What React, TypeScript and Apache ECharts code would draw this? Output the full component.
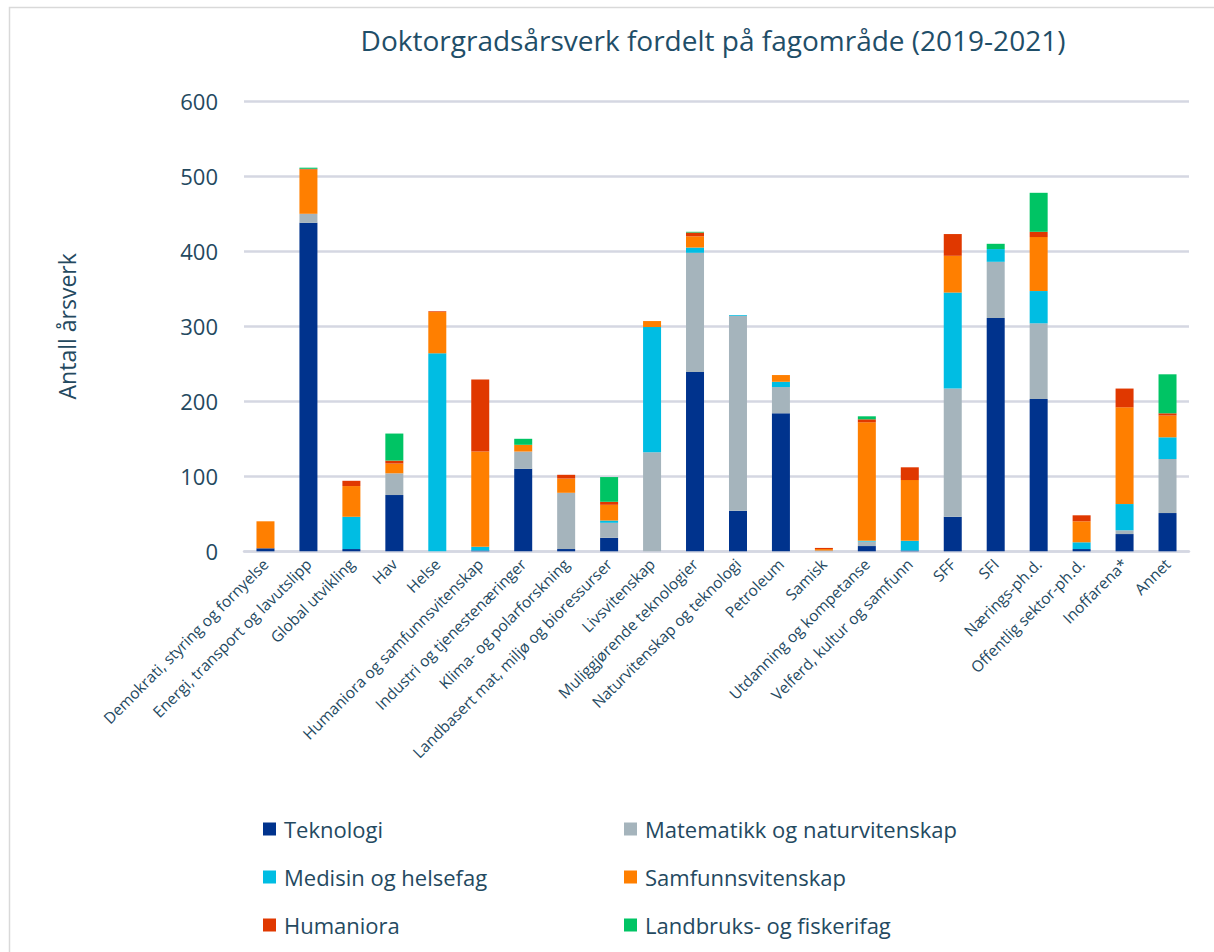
import React, { useEffect, useRef } from "react";
import * as echarts from "echarts";

const categories = [
  "Demokrati, styring og fornyelse",
  "Energi, transport og lavutslipp",
  "Global utvikling",
  "Hav",
  "Helse",
  "Humaniora og samfunnsvitenskap",
  "Industri og tjenestenæringer",
  "Klima- og polarforskning",
  "Landbasert mat, miljø og bioressurser",
  "Livsvitenskap",
  "Muliggjørende teknologier",
  "Naturvitenskap og teknologi",
  "Petroleum",
  "Samisk",
  "Utdanning og kompetanse",
  "Velferd, kultur og samfunn",
  "SFF",
  "SFI",
  "Nærings-ph.d.",
  "Offentlig sektor-ph.d.",
  "Inoffarena*",
  "Annet",
];

const teknologi = [4, 438, 3, 75, 0, 1, 110, 3, 18, 0, 239, 54, 184, 0, 7, 1, 46, 311, 203, 3, 23, 51];
const matematikk = [0, 12, 0, 29, 0, 0, 23, 75, 20, 132, 159, 260, 35, 1, 6, 0, 171, 75, 101, 0, 5, 72];
const medisin = [0, 0, 43, 0, 264, 5, 0, 0, 3, 167, 7, 1, 7, 0, 1, 13, 128, 17, 43, 9, 35, 29];
const samfunn = [36, 59, 41, 13, 55, 127, 9, 19, 21, 8, 15, 0, 9, 2, 158, 81, 49, 0, 72, 28, 129, 29];
const humaniora = [0, 1, 7, 4, 1, 96, 0, 5, 4, 0, 5, 0, 0, 1.5, 4, 17, 29, 0, 7, 8, 25, 3];
const landbruk = [0, 1.5, 0, 36, 0, 0, 8, 0, 33, 0, 1, 0, 0, 0, 4, 0, 0, 7, 52, 0, 0, 52];

const seriesNames = [
  "Teknologi",
  "Matematikk og naturvitenskap",
  "Medisin og helsefag",
  "Samfunnsvitenskap",
  "Humaniora",
  "Landbruks- og fiskerifag",
];
const seriesData = [teknologi, matematikk, medisin, samfunn, humaniora, landbruk];
const colors = ["#00338d", "#a5b4bc", "#00bde3", "#ff7f00", "#e03800", "#00c464"];

const titleText = "Doktorgradsårsverk fordelt på fagområde (2019-2021)";
const yAxisName = "Antall årsverk";

const textColor = "#24495f";
const font = "'Open Sans', 'Noto Sans', sans-serif";

export default function App() {
  const ref = useRef<HTMLDivElement>(null);
  useEffect(() => {
    if (!ref.current) return;
    const chart = echarts.init(ref.current, null, { renderer: "svg" });
    const legendText = {
      color: textColor,
      fontSize: 22,
      fontFamily: font,
      lineHeight: 24,
      padding: [0, 0, 0, 3],
    };
    chart.setOption({
      animation: false,
      backgroundColor: "#ffffff",
      color: colors,
      title: {
        text: titleText,
        left: 708,
        textAlign: "center",
        top: 21,
        textStyle: { color: "#1f4e68", fontSize: 28, fontWeight: "normal", fontFamily: font },
      },
      graphic: [
        {
          type: "rect",
          shape: { x: 9.5, y: 7.5, width: 1230, height: 980 },
          style: { fill: "none", stroke: "#d9d9d9", lineWidth: 1.5 },
          silent: true,
        },
      ],
      legend: [
        {
          data: [seriesNames[0], seriesNames[2], seriesNames[4]],
          orient: "vertical",
          left: 258,
          top: 812,
          icon: "rect",
          itemWidth: 13,
          itemHeight: 13,
          itemGap: 24,
          textStyle: legendText,
        },
        {
          data: [seriesNames[1], seriesNames[3], seriesNames[5]],
          orient: "vertical",
          left: 619,
          top: 812,
          icon: "rect",
          itemWidth: 13,
          itemHeight: 13,
          itemGap: 24,
          textStyle: legendText,
        },
      ],
      grid: { left: 244, right: 25, top: 101.3, bottom: 400.7, containLabel: false },
      xAxis: {
        type: "category",
        data: categories,
        axisLine: { lineStyle: { color: "#d5d7e2", width: 2.5 } },
        axisTick: { show: false },
        axisLabel: {
          interval: 0,
          rotate: 45,
          fontSize: 15.5,
          color: textColor,
          fontFamily: font,
          margin: 10,
        },
      },
      yAxis: {
        type: "value",
        min: 0,
        max: 600,
        interval: 100,
        name: yAxisName,
        nameLocation: "middle",
        nameGap: 166,
        nameTextStyle: { color: textColor, fontSize: 23, fontFamily: font },
        axisLine: { show: false },
        axisTick: { show: false },
        splitLine: { lineStyle: { color: "#d5d7e2", width: 2.5 } },
        axisLabel: { fontSize: 22, color: textColor, fontFamily: font, margin: 26 },
      },
      series: seriesNames.map((name, i) => ({
        name,
        type: "bar",
        stack: "total",
        barWidth: 18,
        data: seriesData[i],
        itemStyle: { color: colors[i] },
      })),
    });
    return () => chart.dispose();
  }, []);
  return (
    <div
      ref={ref}
      style={{ position: "fixed", left: 0, top: 0, width: 1214, height: 952 }}
    />
  );
}
